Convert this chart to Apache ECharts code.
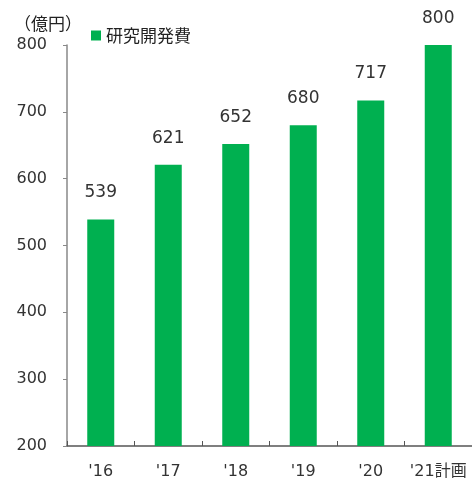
<!DOCTYPE html>
<html><head><meta charset="utf-8">
<script src="https://cdn.jsdelivr.net/npm/echarts@6/dist/echarts.min.js"></script>
<style>html,body{margin:0;padding:0;background:#fff}#c{width:472px;height:482px}</style>
</head><body><div id="c"></div>
<script>
var categories = ["'16", "'17", "'18", "'19", "'20", "'21計画"];
var rdValues = [539, 621, 652, 680, 717, 800];
var yTicks = [200, 300, 400, 500, 600, 700, 800];
var seriesName = "研究開発費";
var unitLabel = "（億円）";

var chart = echarts.init(document.getElementById('c'));
var font = "'DejaVu Sans', 'Noto Sans CJK JP', sans-serif";
var cjk = "'Noto Sans CJK JP', sans-serif";
chart.setOption({
  animation: false,
  textStyle: {fontFamily: font},
  legend: {
    data: [seriesName], left: 86, top: 22, icon: 'rect', itemWidth: 10, itemHeight: 10, itemGap: 6,
    textStyle: {fontSize: 17, color: '#222', fontFamily: cjk}
  },
  graphic: [{type: 'text', left: 14, top: 15, style: {text: unitLabel, fontSize: 17, fill: '#222', fontFamily: cjk}}],
  grid: {left: 67, top: 45, width: 414, height: 401},
  xAxis: {
    type: 'category', data: categories,
    axisLine: {lineStyle: {color: '#555', width: 1.5}},
    axisTick: {show: true, inside: true, length: 5, alignWithLabel: false, lineStyle: {color: '#555'}},
    axisLabel: {fontSize: 16, color: '#333', margin: 18, fontFamily: font, interval: 0}
  },
  yAxis: {
    type: 'value', min: yTicks[0], max: yTicks[yTicks.length - 1], interval: 100,
    splitLine: {show: false},
    axisLine: {show: true, lineStyle: {color: '#888', width: 1.5}},
    axisTick: {show: true, length: 4, lineStyle: {color: '#888'}},
    axisLabel: {fontSize: 16, color: '#333', margin: 20, fontFamily: font}
  },
  series: [{
    name: seriesName, type: 'bar', data: rdValues, barWidth: 27,
    itemStyle: {color: '#00B050'},
    label: {show: true, position: 'top', distance: 18, fontSize: 17, color: '#333', fontFamily: font}
  }]
});
</script></body></html>
